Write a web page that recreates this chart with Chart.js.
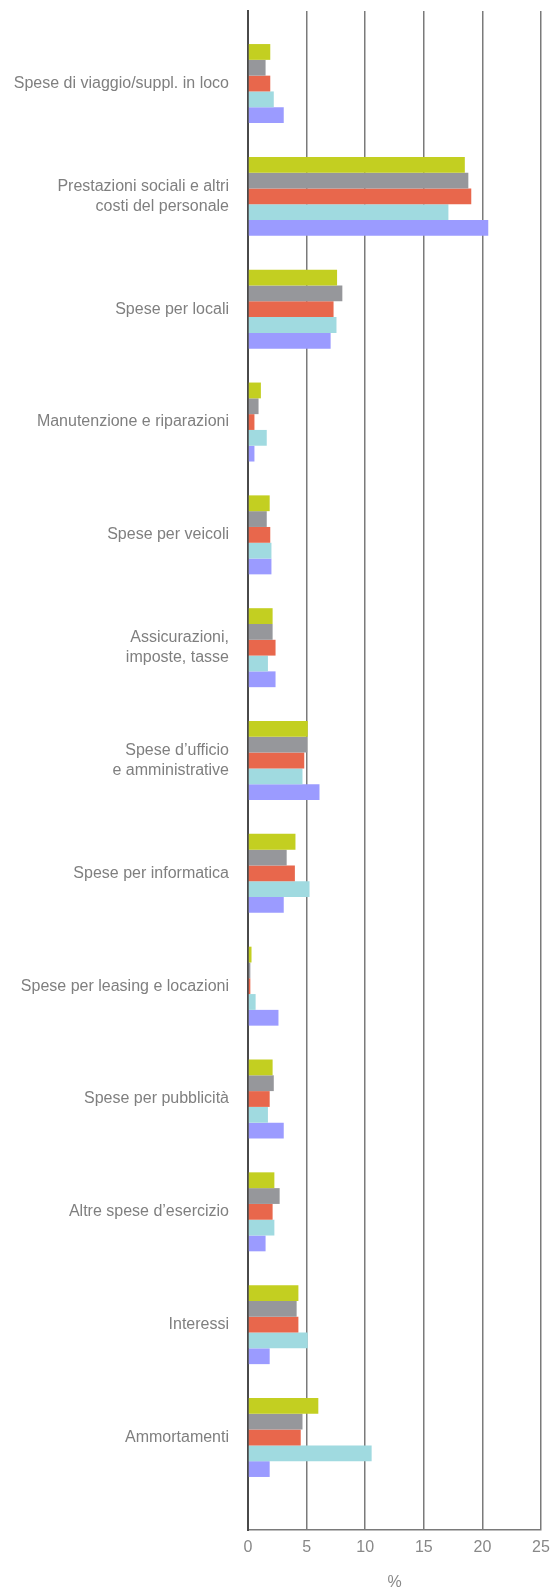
<!DOCTYPE html>
<html lang="it">
<head>
<meta charset="UTF-8">
<title>Costi</title>
<script src="https://cdn.jsdelivr.net/npm/chart.js"></script>
<style>
  html, body { margin: 0; padding: 0; background: #fff; }
  #wrap { width: 551px; height: 1591px; position: relative; }
</style>
</head>
<body>
<div id="wrap"><canvas id="chart"></canvas></div>
<script>
// categorie (etichette su più righe dove serve)
const categories = [
  'Spese di viaggio/suppl. in loco',
  ['Prestazioni sociali e altri', 'costi del personale'],
  'Spese per locali',
  'Manutenzione e riparazioni',
  'Spese per veicoli',
  ['Assicurazioni,', 'imposte, tasse'],
  ['Spese d\u2019ufficio', 'e amministrative'],
  'Spese per informatica',
  'Spese per leasing e locazioni',
  'Spese per pubblicità',
  'Altre spese d\u2019esercizio',
  'Interessi',
  'Ammortamenti'
];

// valori in %
const serie1 = [1.9, 18.5, 7.6, 1.1, 1.85, 2.1, 5.1, 4.05, 0.3, 2.1, 2.25, 4.3, 6.0];
const serie2 = [1.5, 18.8, 8.05, 0.9, 1.6, 2.1, 5.05, 3.3, 0.2, 2.2, 2.7, 4.15, 4.65];
const serie3 = [1.9, 19.05, 7.3, 0.55, 1.9, 2.35, 4.8, 4.0, 0.2, 1.85, 2.1, 4.3, 4.5];
const serie4 = [2.2, 17.1, 7.55, 1.6, 2.0, 1.7, 4.65, 5.25, 0.65, 1.7, 2.25, 5.1, 10.55];
const serie5 = [3.05, 20.5, 7.05, 0.55, 2.0, 2.35, 6.1, 3.05, 2.6, 3.05, 1.5, 1.85, 1.85];

const xTicks = [0, 5, 10, 15, 20, 25];

const colors = ['#c3cf21', '#96979b', '#e8674c', '#a0dae0', '#9b9bff'];
const allSeries = [serie1, serie2, serie3, serie4, serie5];

const font = 'Liberation Sans, Arial, Helvetica, sans-serif';
const yMin = -0.643, yMax = 12.82;

const datasets = allSeries.map((s, k) => ({
  label: 'Serie ' + (k + 1),
  data: s.map((v, i) => ({ x: v, y: i })),
  backgroundColor: colors[k],
  borderWidth: 0,
  categoryPercentage: 0.7,
  barPercentage: 1.0
}));

new Chart(document.getElementById('chart'), {
  type: 'bar',
  data: { datasets: datasets },
  options: {
    indexAxis: 'y',
    responsive: true,
    maintainAspectRatio: false,
    animation: false,
    layout: { padding: { top: 11, right: 10, left: 0, bottom: 0 } },
    plugins: { legend: { display: false }, tooltip: { enabled: false } },
    scales: {
      x: {
        type: 'linear',
        min: 0,
        max: 25,
        afterBuildTicks: s => { s.ticks = xTicks.map(v => ({ value: v })); },
        afterFit: s => { s.height = 61; s.paddingLeft = 0; s.paddingRight = 0; },
        grid: { color: '#7a7a7a', lineWidth: 1.5, drawTicks: false },
        border: { color: '#7a7a7a', width: 1.5 },
        ticks: { color: '#888', font: { family: font, size: 16 }, padding: 8 },
        title: {
          display: true, text: '%', color: '#888',
          font: { family: font, size: 16, lineHeight: 1 }, padding: { top: 18, bottom: 0 }
        }
      },
      y: {
        type: 'linear',
        reverse: true,
        offset: false,
        bounds: 'data',
        min: yMin,
        max: yMax,
        afterBuildTicks: s => {
          s.ticks = categories.map((c, i) => ({ value: i }));
          s.min = yMin;
          s.max = yMax;
        },
        afterFit: s => { s.width = 248; s.paddingTop = 0; s.paddingBottom = 0; },
        grid: { display: false, drawTicks: false },
        border: { color: '#4a4a4a', width: 2 },
        ticks: {
          autoSkip: false,
          color: '#7f7f7f',
          padding: 19,
          font: { family: font, size: 16, lineHeight: 1.25 },
          callback: v => categories[v]
        }
      }
    }
  }
});
</script>
</body>
</html>
